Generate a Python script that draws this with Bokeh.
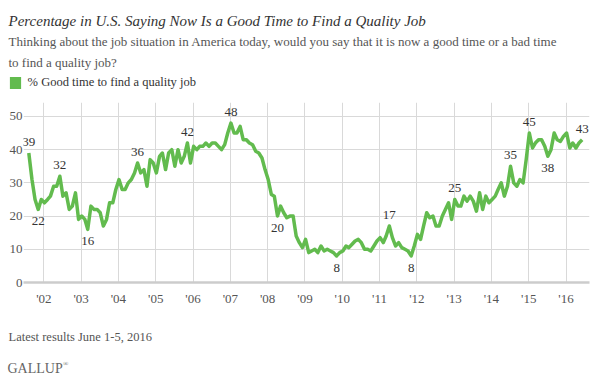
import pandas as pd
from bokeh.plotting import figure
from bokeh.models import (ColumnDataSource, Range1d, FixedTicker, CustomJSTickFormatter,
                          Label, LabelSet, Legend, LegendItem)
from bokeh.core.properties import value
from bokeh.embed import file_html
from bokeh.resources import INLINE

# ---------------- data (monthly, % good time to find a quality job) ----------------
v2001 = [39, 31, 25, 22, 25]                      # Aug-Dec 2001
v2002 = [24, 25, 26, 29, 29, 32, 26, 27, 22, 23, 27, 19]
v2003 = [20, 19, 16, 23, 22, 22, 21, 17, 19, 24, 24, 28]
v2004 = [31, 28, 28, 30, 31, 33, 36, 33, 34, 29, 37, 36]
v2005 = [33, 38, 39, 34, 39, 40, 35, 40, 36, 38, 42, 36]
v2006 = [41, 40, 41, 41, 42, 41, 42, 42, 41, 40, 41.5, 45]
v2007 = [48, 45, 45, 47, 43, 43, 42, 41.5, 39.5, 39, 37.5, 34]
v2008 = [31, 26.5, 26, 20, 23, 21, 19.5, 20, 20, 14, 12, 10.5]
v2009 = [13, 9, 9.5, 10, 9, 11, 9.5, 10, 9.5, 9, 8, 9]
v2010 = [9.5, 11, 10.5, 11.5, 12.5, 13, 12, 10, 10, 9.5, 11, 12.5]
v2011 = [13.5, 12, 14, 17, 13.5, 11, 12, 10.5, 10, 9.5, 8, 11]
v2012 = [14.5, 13, 17, 21, 19.5, 20, 17, 17, 20, 22, 24, 19]
v2013 = [25, 23, 23, 26, 24.5, 26, 24.5, 21.5, 27, 22, 26, 24]
v2014 = [25, 26, 28, 30, 26, 29, 35, 30, 29, 31, 30, 37]
v2015 = [45, 40.5, 42, 43, 43, 41, 38, 40, 45, 43, 42.5, 44]
v2016 = [45, 40.5, 42, 40.5, 42, 43]                # Jan-Jun 2016

first_month = "2001-08-01"
last_month = "2016-06-01"

label_months = ["2001-08", "2001-11", "2002-06", "2003-03", "2004-07", "2005-11",
                "2007-01", "2008-04", "2009-11", "2011-04", "2011-11", "2013-01",
                "2014-07", "2015-01", "2015-07", "2016-06"]
label_texts = ["39", "22", "32", "16", "36", "42", "48", "20", "8", "17", "8", "25",
               "35", "45", "38", "43"]
label_side = ["above", "below", "above", "below", "above", "above", "above", "below",
              "below", "above", "below", "above", "above", "above", "below", "above"]

tick_years = list(range(2002, 2017))
tick_labels = ["'02", "'03", "'04", "'05", "'06", "'07", "'08", "'09", "'10", "'11",
               "'12", "'13", "'14", "'15", "'16"]
y_ticks = [0, 10, 20, 30, 40, 50]

TITLE = "Percentage in U.S. Saying Now Is a Good Time to Find a Quality Job"
SUB1 = ("Thinking about the job situation in America today, would you say that it is now "
        "a good time or a bad time")
SUB2 = "to find a quality job?"
LEGEND_LABEL = "% Good time to find a quality job"
NOTE = "Latest results June 1-5, 2016"
BRAND = "GALLUP"

# ---------------- build ----------------
values = (v2001 + v2002 + v2003 + v2004 + v2005 + v2006 + v2007 + v2008 + v2009 +
          v2010 + v2011 + v2012 + v2013 + v2014 + v2015 + v2016)
dates = pd.date_range(first_month, last_month, freq="MS") + pd.Timedelta(days=6)
assert len(dates) == len(values)
src = ColumnDataSource(dict(date=dates, value=values))

series = pd.Series(values, index=dates.strftime("%Y-%m"))
month_keys = list(series.index)
lab_x = [dates[month_keys.index(m)] for m in label_months]
lab_y = [float(series[m]) for m in label_months]
lab_off = [7 if s == "above" else -16 for s in label_side]
lab_src = ColumnDataSource(dict(x=lab_x, y=lab_y, t=label_texts, off=lab_off))

GREEN = "#62bb4e"
FONT = "Liberation Serif"
GRID = "#d9d9d9"
W = 590


def blank(height):
    f = figure(width=W, height=height, x_range=Range1d(0, 1), y_range=Range1d(0, 1),
               x_axis_location=None, y_axis_location=None, output_backend="svg",
               toolbar_location=None, min_border=0)
    f.grid.visible = False
    f.outline_line_color = None
    f.background_fill_color = "white"
    f.border_fill_color = "white"
    return f


def txt(f, t, x, y, size, color, style="normal"):
    f.add_layout(Label(x=x, y=y, x_units="screen", y_units="screen", text=t,
                       text_font=FONT, text_font_size=size, text_color=color,
                       text_font_style=style, text_baseline="alphabetic"))


# ---- header: title, subtitle, legend ----
HDR_H = 102
hdr = blank(HDR_H)
txt(hdr, TITLE, 8, HDR_H - 20, "15px", "#333333", "italic")
txt(hdr, SUB1, 8, HDR_H - 41, "13px", "#555555")
txt(hdr, SUB2, 8, HDR_H - 62, "13px", "#555555")
swatch = hdr.rect(x=[0.5], y=[0.5], width=0.1, height=0.1, fill_color=GREEN,
                  line_color=None, visible=False)
legend = Legend(items=[LegendItem(label=LEGEND_LABEL, renderers=[swatch])],
                location=(7.6, HDR_H - 89.5), padding=0, margin=0, border_line_color=None,
                background_fill_alpha=0, glyph_width=14, glyph_height=15, label_height=15,
                label_standoff=6, label_text_font=FONT, label_text_font_size="12.5px",
                label_text_color="#333333")
hdr.add_layout(legend)

# ---- main chart ----
MAIN_H = 213
p = figure(width=W, height=MAIN_H, x_axis_type="datetime",
           x_range=Range1d(pd.Timestamp("2001-06-16"), pd.Timestamp("2016-08-18")),
           y_range=Range1d(0, 54.2),
           output_backend="svg", toolbar_location=None,
           min_border_left=23, min_border_right=1, min_border_top=0, min_border_bottom=33)
p.outline_line_color = None
p.background_fill_color = "white"
p.border_fill_color = "white"

tick_ms = [float(pd.Timestamp(f"{y}-01-01").value // 10**6) for y in tick_years]
xt = FixedTicker(ticks=tick_ms)
p.xaxis.ticker = xt
p.xaxis.formatter = CustomJSTickFormatter(
    args=dict(tk=tick_ms, lb=tick_labels),
    code="const i = tk.indexOf(tick); return i >= 0 ? lb[i] : '';")
p.xgrid.ticker = xt
p.yaxis.ticker = FixedTicker(ticks=y_ticks)
p.ygrid.ticker = FixedTicker(ticks=y_ticks)
p.xgrid.grid_line_color = GRID
p.ygrid.grid_line_color = GRID

for ax in (p.xaxis[0], p.yaxis[0]):
    ax.major_tick_line_color = None
    ax.minor_tick_line_color = None
    ax.major_tick_out = 0
    ax.major_tick_in = 0
    ax.minor_tick_out = 0
    ax.major_label_text_font = FONT
    ax.major_label_text_font_size = "13px"
    ax.major_label_text_color = "#555555"
p.yaxis.axis_line_color = None
p.yaxis.major_label_standoff = 1
p.xaxis.axis_line_color = "#cccccc"
p.xaxis.axis_line_width = 2.5
p.xaxis.major_label_standoff = 8

p.line(x="date", y="value", source=src, line_color=GREEN, line_width=3.5, line_join="round")

p.add_layout(LabelSet(x="x", y="y", text="t", source=lab_src, y_offset="off",
                      text_align="center", text_baseline="alphabetic",
                      text_font=value(FONT), text_font_size="13px", text_color="#333333"))

# ---- footer ----
FTR_H = 377 - HDR_H - MAIN_H
ftr = blank(FTR_H)
txt(ftr, NOTE, 8, FTR_H - 21, "12.5px", "#555555")
txt(ftr, BRAND, 7, FTR_H - 53, "14px", "#666666")
txt(ftr, "\u00ae", 62.5, FTR_H - 48, "7px", "#666666")

# three separate roots stacked on the page (no frame alignment between them)
open("out.html", "w").write(file_html([hdr, p, ftr], INLINE))
